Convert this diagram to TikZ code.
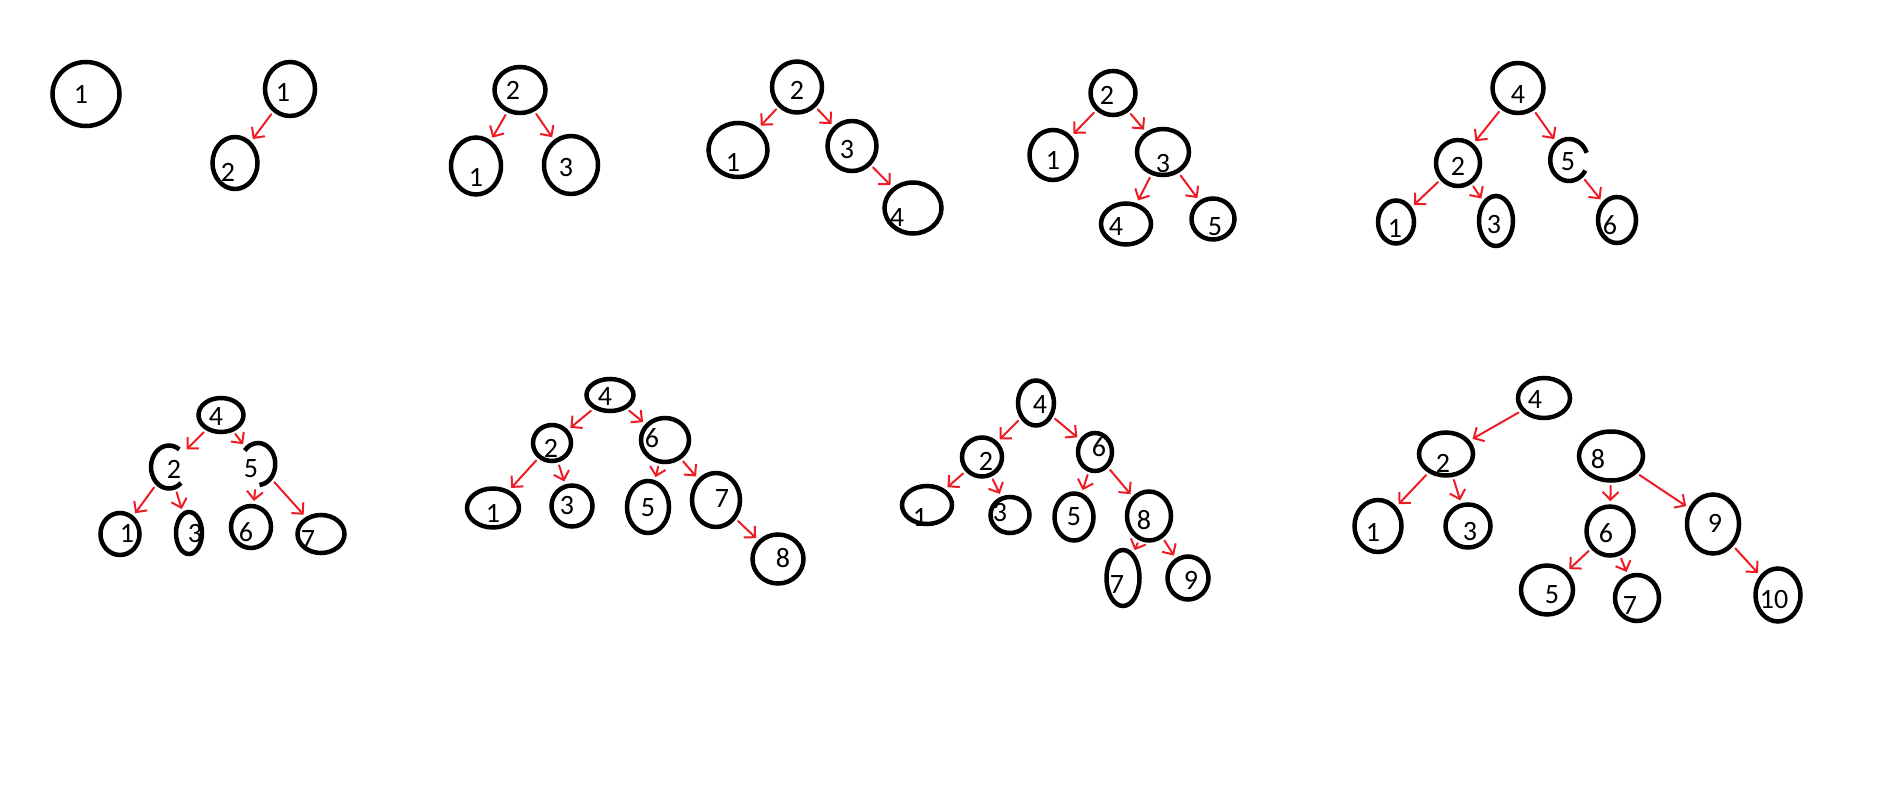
\documentclass[tikz,border=0pt]{standalone}
\usepackage{fontspec}
\setmainfont{Carlito}
\usetikzlibrary{shapes.geometric,arrows.meta}
\definecolor{paintred}{RGB}{237,28,36}
\tikzset{
  ring/.style={ellipse, draw, line width=4.5pt, inner sep=0pt},
  hole/.style={ring, draw=none},
  gap/.style={line width=4.5pt},
  edge/.style={paintred, line width=2pt, line cap=round,
    -{Straight Barb[length=8pt,width=16pt]}, shorten >=3pt, shorten <=3pt},
  every label/.style={inner sep=0pt, font=\fontsize{28}{28}\selectfont},
}

\begin{document}
\begin{tikzpicture}[x=1pt, y=-1pt]
  \useasboundingbox (0,0) rectangle (1901,811);
  % one node
  \node[ring, minimum width=67pt, minimum height=64pt, label={[xshift=-5pt]center:1}] (a1) at (86,94) {};
  % two nodes
  \node[ring, minimum width=50pt, minimum height=54pt, label={[xshift=-7pt, yshift=-3pt]center:1}] (b1) at (290,89) {};
  \node[ring, minimum width=45pt, minimum height=52pt, label={[xshift=-7pt, yshift=-9pt]center:2}] (b2) at (235,163) {};
  \draw[edge] (b1) -- (b2);
  % three nodes
  \node[ring, minimum width=51pt, minimum height=46pt, label={[xshift=-7pt]center:2}] (c2) at (520,90) {};
  \node[ring, minimum width=50pt, minimum height=57pt, label={[yshift=-11pt]center:1}] (c1) at (476,166) {};
  \node[ring, minimum width=54pt, minimum height=58pt, label={[xshift=-5pt, yshift=-3pt]center:3}] (c3) at (571,165) {};
  \draw[edge] (c2) -- (c1);
  \draw[edge] (c2) -- (c3);
  % four nodes
  \node[ring, minimum width=50pt, minimum height=51pt, label={[yshift=-3pt]center:2}] (d2) at (797,87) {};
  \node[ring, minimum width=59pt, minimum height=54pt, label={[xshift=-5pt, yshift=-12pt]center:1}] (d1) at (738,150) {};
  \node[ring, minimum width=49pt, minimum height=50pt, label={[xshift=-5pt, yshift=-4pt]center:3}] (d3) at (852,146) {};
  \node[ring, minimum width=57pt, minimum height=51pt, label={[xshift=-16pt, yshift=-10pt]center:4}] (d4) at (913,208) {};
  \draw[edge] (d2) -- (d1);
  \draw[edge] (d2) -- (d3);
  \draw[edge] (d3) -- (d4);
  % five nodes
  \node[ring, minimum width=45pt, minimum height=44pt, label={[xshift=-6pt, yshift=-2pt]center:2}] (e2) at (1113,93) {};
  \node[ring, minimum width=47pt, minimum height=50pt, label={[yshift=-5pt]center:1}] (e1) at (1053,155) {};
  \node[ring, minimum width=52pt, minimum height=46pt, label={[yshift=-12pt]center:3}] (e3) at (1163,152) {};
  \node[ring, minimum width=50pt, minimum height=41pt, label={[xshift=-10pt, yshift=-3pt]center:4}] (e4) at (1126,224) {};
  \node[ring, minimum width=43pt, minimum height=41pt, label={[xshift=2pt, yshift=-8pt]center:5}] (e5) at (1213,219) {};
  \draw[edge] (e2) -- (e1);
  \draw[edge] (e2) -- (e3);
  \draw[edge] (e3) -- (e4);
  \draw[edge] (e3) -- (e5);
  % six nodes
  \node[ring, minimum width=51pt, minimum height=50pt, label={[yshift=-7pt]center:4}] (f4) at (1518,88) {};
  \node[ring, minimum width=44pt, minimum height=46pt, label={[yshift=-3pt]center:2}] (f2) at (1458,163) {};
  \node[hole, minimum width=38pt, minimum height=42pt, label={[xshift=-1pt, yshift=-2pt]center:5}] (f5) at (1569,160) {};
  \node[ring, minimum width=36pt, minimum height=43pt, label={[xshift=-1pt, yshift=-6pt]center:1}] (f1) at (1396,222) {};
  \node[ring, minimum width=34pt, minimum height=50pt, label={[xshift=-2pt, yshift=-4pt]center:3}] (f3) at (1496,221) {};
  \node[ring, minimum width=38pt, minimum height=46pt, label={[xshift=-7pt, yshift=-5pt]center:6}] (f6) at (1617,220) {};
  \draw[gap] ([shift={(20:18.8pt and 21pt)}]f5.center) arc[start angle=20, end angle=330, x radius=18.8pt, y radius=21pt];
  \draw[edge] (f4) -- (f2);
  \draw[edge] (f4) -- (f5);
  \draw[edge] (f2) -- (f1);
  \draw[edge] (f2) -- (f3);
  \draw[edge] (f5) -- (f6);
  % seven nodes
  \node[ring, minimum width=45pt, minimum height=34pt, label={[xshift=-5pt, yshift=-2pt]center:4}] (g4) at (221,415) {};
  \node[hole, minimum width=36pt, minimum height=43pt, label={[xshift=5pt, yshift=-2pt]center:2}] (g2) at (169,467) {};
  \node[hole, minimum width=35pt, minimum height=42pt, label={[xshift=-7pt, yshift=-5pt]center:5}] (g5) at (258,464) {};
  \node[ring, minimum width=39pt, minimum height=42pt, label={[xshift=7pt, yshift=1pt]center:1}] (g1) at (120,534) {};
  \node[ring, minimum width=26pt, minimum height=42pt, label={[xshift=6pt, yshift=-1pt]center:3}] (g3) at (189,533) {};
  \node[ring, minimum width=40pt, minimum height=42pt, label={[xshift=-5pt, yshift=-5pt]center:6}] (g6) at (251,527) {};
  \node[ring, minimum width=47pt, minimum height=38pt, label={[xshift=-13pt, yshift=-6pt]center:7}] (g7) at (321,534) {};
  \draw[gap] ([shift={(55:18pt and 21.5pt)}]g2.center) arc[start angle=55, end angle=312, x radius=18pt, y radius=21.5pt];
  \draw[gap] ([shift={(-85:17.3pt and 21pt)}]g5.center) arc[start angle=-85, end angle=140, x radius=17.3pt, y radius=21pt];
  \draw[edge] (g4) -- (g2);
  \draw[edge] (g4) -- (g5);
  \draw[edge] (g2) -- (g1);
  \draw[edge] (g2) -- (g3);
  \draw[edge] (g5) -- (g6);
  \draw[edge] (g5) -- (g7);
  % eight nodes
  \node[ring, minimum width=47pt, minimum height=32pt, label={[xshift=-5pt, yshift=-2pt]center:4}] (h4) at (610,395) {};
  \node[ring, minimum width=38pt, minimum height=36pt, label={[xshift=-1pt, yshift=-5pt]center:2}] (h2) at (552,443) {};
  \node[ring, minimum width=48pt, minimum height=44pt, label={[xshift=-13pt, yshift=2pt]center:6}] (h6) at (665,440) {};
  \node[ring, minimum width=52pt, minimum height=39pt, label={[yshift=-5pt]center:1}] (h1) at (493,508) {};
  \node[ring, minimum width=41pt, minimum height=41pt, label={[xshift=-5pt]center:3}] (h3) at (572,506) {};
  \node[ring, minimum width=42pt, minimum height=52pt, label={[yshift=-1pt]center:5}] (h5) at (648,507) {};
  \node[ring, minimum width=48pt, minimum height=54pt, label={[xshift=6pt, yshift=1pt]center:7}] (h7) at (716,500) {};
  \node[ring, minimum width=51pt, minimum height=49pt, label={[xshift=5pt, yshift=1pt]center:8}] (h8) at (778,559) {};
  \draw[edge] (h4) -- (h2);
  \draw[edge] (h4) -- (h6);
  \draw[edge] (h2) -- (h1);
  \draw[edge] (h2) -- (h3);
  \draw[edge] (h6) -- (h5);
  \draw[edge] (h6) -- (h7);
  \draw[edge] (h7) -- (h8);
  % nine nodes
  \node[ring, minimum width=36pt, minimum height=45pt, label={[xshift=4pt, yshift=-2pt]center:4}] (i4) at (1036,403) {};
  \node[ring, minimum width=40pt, minimum height=39pt, label={[xshift=4pt, yshift=-4pt]center:2}] (i2) at (982,457) {};
  \node[ring, minimum width=34pt, minimum height=38pt, label={[xshift=4pt, yshift=5pt]center:6}] (i6) at (1095,452) {};
  \node[ring, minimum width=50pt, minimum height=38pt, label={[xshift=-7pt, yshift=-12pt]center:1}] (i1) at (927,505) {};
  \node[ring, minimum width=39pt, minimum height=36pt, label={[xshift=-10pt, yshift=2pt]center:3}] (i3) at (1010,515) {};
  \node[ring, minimum width=39pt, minimum height=47pt, label={center:5}] (i5) at (1074,517) {};
  \node[ring, minimum width=44pt, minimum height=49pt, label={[xshift=-5pt, yshift=-4pt]center:8}] (i8) at (1149,516) {};
  \node[ring, minimum width=33pt, minimum height=56pt, label={[xshift=-6pt, yshift=-7pt]center:7}] (i7) at (1123,578) {};
  \node[ring, minimum width=41pt, minimum height=43pt, label={[xshift=3pt, yshift=-2pt]center:9}] (i9) at (1188,578) {};
  \draw[edge] (i4) -- (i2);
  \draw[edge] (i4) -- (i6);
  \draw[edge] (i2) -- (i1);
  \draw[edge] (i2) -- (i3);
  \draw[edge] (i6) -- (i5);
  \draw[edge] (i6) -- (i8);
  \draw[edge] (i8) -- (i7);
  \draw[edge] (i8) -- (i9);
  % ten nodes
  \node[ring, minimum width=52pt, minimum height=40pt, label={[xshift=-9pt, yshift=-2pt]center:4}] (j4) at (1544,398) {};
  \node[ring, minimum width=54pt, minimum height=43pt, label={[xshift=-3pt, yshift=-9pt]center:2}] (j2) at (1446,454) {};
  \node[ring, minimum width=64pt, minimum height=49pt, label={[xshift=-13pt, yshift=-3pt]center:8}] (j8) at (1611,456) {};
  \node[ring, minimum width=47pt, minimum height=52pt, label={[xshift=-5pt, yshift=-6pt]center:1}] (j1) at (1378,526) {};
  \node[ring, minimum width=45pt, minimum height=43pt, label={[xshift=2pt, yshift=-6pt]center:3}] (j3) at (1468,526) {};
  \node[ring, minimum width=47pt, minimum height=49pt, label={[xshift=-4pt, yshift=-2pt]center:6}] (j6) at (1610,531) {};
  \node[ring, minimum width=52pt, minimum height=59pt, label={[xshift=2pt, yshift=1pt]center:9}] (j9) at (1713,524) {};
  \node[ring, minimum width=52pt, minimum height=49pt, label={[xshift=5pt, yshift=-5pt]center:5}] (j5) at (1547,590) {};
  \node[ring, minimum width=44pt, minimum height=46pt, label={[xshift=-7pt, yshift=-8pt]center:7}] (j7) at (1637,598) {};
  \node[ring, minimum width=45pt, minimum height=53pt, label={[xshift=-4pt, yshift=-5pt]center:10}] (j10) at (1778,595) {};
  \draw[edge] (j4) -- (j2);
  \draw[edge] (j2) -- (j1);
  \draw[edge] (j2) -- (j3);
  \draw[edge] (j8) -- (j6);
  \draw[edge] (j8) -- (j9);
  \draw[edge] (j6) -- (j5);
  \draw[edge] (j6) -- (j7);
  \draw[edge] (j9) -- (j10);
\end{tikzpicture}
\end{document}
